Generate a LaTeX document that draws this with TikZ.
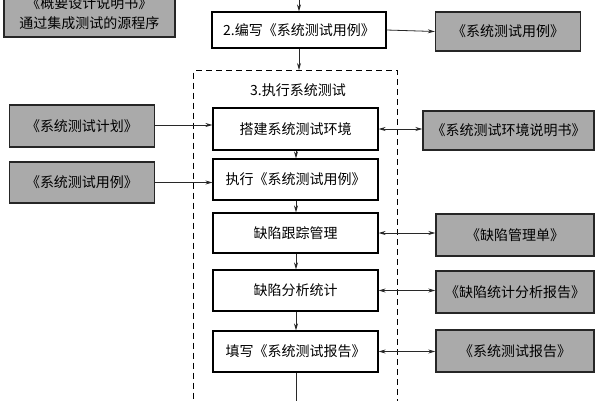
\documentclass[tikz,border=0pt]{standalone}
\usepackage{fontspec}
\newfontfamily\cjk{Noto Sans CJK SC}
\usetikzlibrary{arrows.meta}
\definecolor{boxgray}{RGB}{170,170,170}
\definecolor{linegray}{RGB}{40,40,40}
\tikzset{
  txt/.style={font=\cjk\fontsize{14}{20}\selectfont, text=black, inner sep=0pt, align=center},
  whitebox/.style={txt, draw=black, line width=1.2pt, fill=white},
  graybox/.style={txt, draw=black!85, line width=1.4pt, fill=boxgray},
  framebox/.style={draw=black, line width=1.1pt, dash pattern=on 6pt off 4pt},
  arr/.style={draw=linegray, line width=0.8pt, -{Stealth[length=7pt,width=4pt]}},
  darr/.style={draw=linegray, line width=0.8pt, {Stealth[length=7pt,width=4pt]}-{Stealth[length=7pt,width=4pt]}},
  ln/.style={draw=linegray, line width=0.8pt}
}
\begin{document}
\begin{tikzpicture}[x=1pt,y=-1pt]
\useasboundingbox (0,0) rectangle (600,400);
\clip (0,0) rectangle (600,400);
\fill[white] (0,0) rectangle (600,400);
% top-left box
\node[graybox, minimum width=171pt, minimum height=47pt] (b1) at (89.5,13.5) {《概要设计说明书》\\通过集成测试的源程序};
% step 2
\coordinate (topin) at (299,-5);
\node[whitebox, minimum width=174pt, minimum height=36pt] (b2) at (299,30) {2.编写《系统测试用例》};
\node[graybox, minimum width=145pt, minimum height=39pt] (g2) at (508,31.5) {《系统测试用例》};
% dashed frame
\node[framebox, minimum width=204pt, minimum height=360pt, anchor=north west, inner sep=0pt] (frame) at (193,70) {};
\node[txt] (title) at (298,90) {3.执行系统测试};
% chain
\node[whitebox, minimum width=165pt, minimum height=42pt] (s1) at (295.5,129) {搭建系统测试环境};
\node[whitebox, minimum width=165pt, minimum height=41pt] (s2) at (295.5,179.5) {执行《系统测试用例》};
\node[whitebox, minimum width=165pt, minimum height=40pt] (s3) at (295.5,233) {缺陷跟踪管理};
\node[whitebox, minimum width=165pt, minimum height=41pt] (s4) at (295.5,290.5) {缺陷分析统计};
\node[whitebox, minimum width=165pt, minimum height=41pt] (s5) at (295.5,351.5) {填写《系统测试报告》};
\coordinate (bottomout) at (296,410);
% left inputs
\node[graybox, minimum width=145pt, minimum height=42pt] (L1) at (82,126) {《系统测试计划》};
\node[graybox, minimum width=145pt, minimum height=41pt] (L2) at (82,182.5) {《系统测试用例》};
% right outputs
\node[graybox, minimum width=171pt, minimum height=39pt] (R1) at (508.5,130.5) {《系统测试环境说明书》};
\node[graybox, minimum width=158pt, minimum height=42pt] (R3) at (515,235) {《缺陷管理单》};
\node[graybox, minimum width=158pt, minimum height=42pt] (R4) at (515,292) {《缺陷统计分析报告》};
\node[graybox, minimum width=158pt, minimum height=42pt] (R5) at (515,351) {《系统测试报告》};
% connectors
\draw[arr] (topin) -- (b2.north);
\draw[arr] (b2.east) -- (g2.west);
\draw[arr] (b2.south) -- (b2.south |- frame.north);
\draw[arr] ([xshift=0.5pt]s1.south) -- ([xshift=0.5pt]s2.north);
\draw[arr] ([xshift=0.5pt]s2.south) -- ([xshift=0.5pt]s3.north);
\draw[arr] ([xshift=0.5pt]s3.south) -- ([xshift=0.5pt]s4.north);
\draw[arr] ([xshift=0.5pt]s4.south) -- ([xshift=0.5pt]s5.north);
\draw[ln] ([xshift=0.5pt]s5.south) -- (bottomout);
\draw[arr] ([yshift=1pt]L1.east) -- ([yshift=1pt]L1.east -| s1.west);
\draw[arr] (L2.east) -- (L2.east -| s2.west);
\draw[darr] (s1.east) -- (s1.east -| R1.west);
\draw[darr] (s3.east) -- (s3.east -| R3.west);
\draw[darr] (s4.east) -- (s4.east -| R4.west);
\draw[darr] (s5.east) -- (s5.east -| R5.west);
\end{tikzpicture}
\end{document}
